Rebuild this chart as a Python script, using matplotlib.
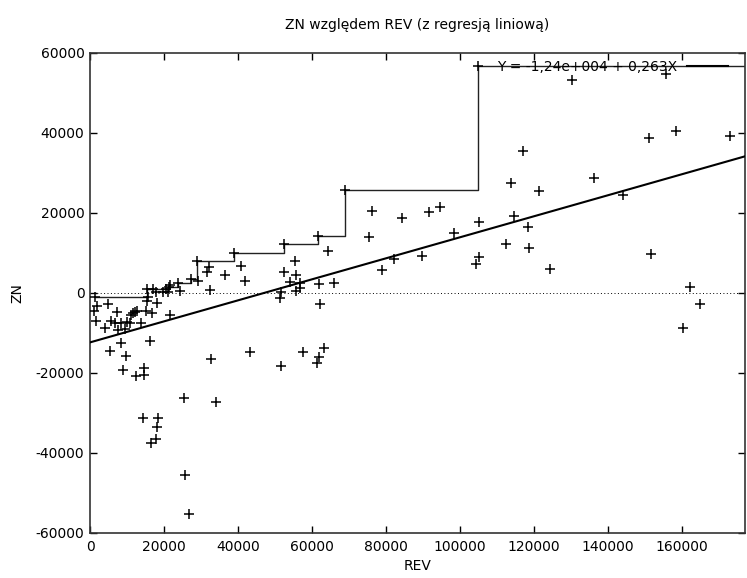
import matplotlib
matplotlib.use('Agg')
import matplotlib.pyplot as plt

# data
rev = [1250, 2000, 1100, 1700, 4900, 7400, 5800, 4100, 6700, 7600,
       8450, 10000, 9550, 10700, 11600, 12100, 12800, 11200, 13900, 15200,
       16800, 15500, 18200, 15500, 17000, 17900, 15700, 19700, 20400, 21350,
       21500, 21100, 23900, 24200, 21500, 16100, 8400, 5400, 9650, 27200,
       29200, 29000, 32250, 31500, 32350, 36500, 40700, 41900, 38900, 52400,
       61600, 68800, 104800, 64400, 55400, 52300, 55600, 53900, 56800, 61800,
       66000, 51600, 51400, 55600, 56600, 62200, 43100, 32600, 51600, 57600,
       63200, 61800, 61400, 34100, 25500, 25700, 26800, 14400, 18500, 18200,
       17750, 16400, 14500, 14600, 12400, 9000, 76100, 84400, 91700, 94600,
       98400, 105000, 75500, 82000, 79000, 89600, 105100, 104300, 112400, 113700,
       117100, 121200, 136100, 143900, 114600, 118300, 118700, 124200, 151600, 162200,
       164700, 160100, 130200, 155600, 151100, 158300, 173000]
zn = [-1150, -3300, -4500, -7000, -2900, -4750, -7000, -8750, -7650, -9300,
      -7500, -7250, -9150, -7650, -5150, -4750, -4500, -5600, -7650, -4500,
      -5150, -2050, -2500, 850, 850, 250, -1000, 250, 850, 1500,
      1900, 250, 2350, 500, -5600, -12000, -12650, -14500, -15700, 3400,
      3000, 7900, 6350, 5250, 700, 4400, 6700, 3000, 9900, 12200,
      14200, 25800, 56700, 10500, 8000, 5100, 4400, 2750, 2500, 2200,
      2500, 100, -1300, 500, 1100, -2800, -14900, -16600, -18400, -14800,
      -13800, -16100, -17600, -27250, -26250, -45600, -55300, -31400, -31400, -33500,
      -36600, -37500, -18900, -20600, -20800, -19300, 20400, 18600, 20100, 21500,
      15000, 17750, 13850, 8400, 5800, 9300, 9000, 7300, 12200, 27350,
      35500, 25500, 28600, 24400, 19250, 16500, 11100, 6000, 9700, 1500,
      -2750, -8800, 53350, 54850, 38700, 40500, 39350]

# running maximum drawn as steps
step_rev = [1250, 15500, 21350, 23900, 27200, 29000, 38900, 52400, 61600, 68800, 104800, 177000]
step_zn = [-1000, 850, 1500, 2350, 3400, 7900, 9900, 12200, 14200, 25800, 56700, 56700]

intercept = -12400
slope = 0.263
x_max = 177000

plt.rcParams['font.family'] = ['DejaVu Sans']
plt.rcParams['axes.unicode_minus'] = False

fig = plt.figure(figsize=(7.47, 5.78), dpi=100)
ax = fig.add_axes([0.1205, 0.0784, 0.877, 0.83])

ax.axhline(0, color='black', lw=0.7, ls=(0, (1, 2.5)), zorder=1)
ax.plot(step_rev, step_zn, drawstyle='steps-post', color='#222222', lw=1.0, zorder=2)
ax.plot(rev, zn, ls='none', marker='+', ms=7, mew=1.1, color='black', zorder=3)
ax.plot([0, x_max], [intercept, intercept + slope * x_max], color='black', lw=1.5,
        label='Y = -1,24e+004 + 0,263X', zorder=4)

ax.set_xlim(0, x_max)
ax.set_ylim(-60000, 60000)
ax.set_xticks(range(0, 160001, 20000))
ax.set_yticks(range(-60000, 60001, 20000))
ax.tick_params(direction='in', length=5, width=1, top=True, right=True, labelsize=10)
ax.tick_params(axis='y', pad=4)
ax.tick_params(axis='x', pad=5)
for s in ax.spines.values():
    s.set_linewidth(1.2)
    s.set_color('#333333')

ax.set_title('ZN względem REV (z regresją liniową)', fontsize=10, pad=17)
ax.set_xlabel('REV', fontsize=10, labelpad=4)
ax.set_ylabel('ZN', fontsize=10, labelpad=8)

ax.legend(loc='upper right', frameon=False, fontsize=10, handlelength=3.0,
          markerfirst=False, borderaxespad=0.2, borderpad=0.3, handletextpad=0.7,
          bbox_to_anchor=(0.985, 1.0))

fig.savefig('out.png', dpi=100)
